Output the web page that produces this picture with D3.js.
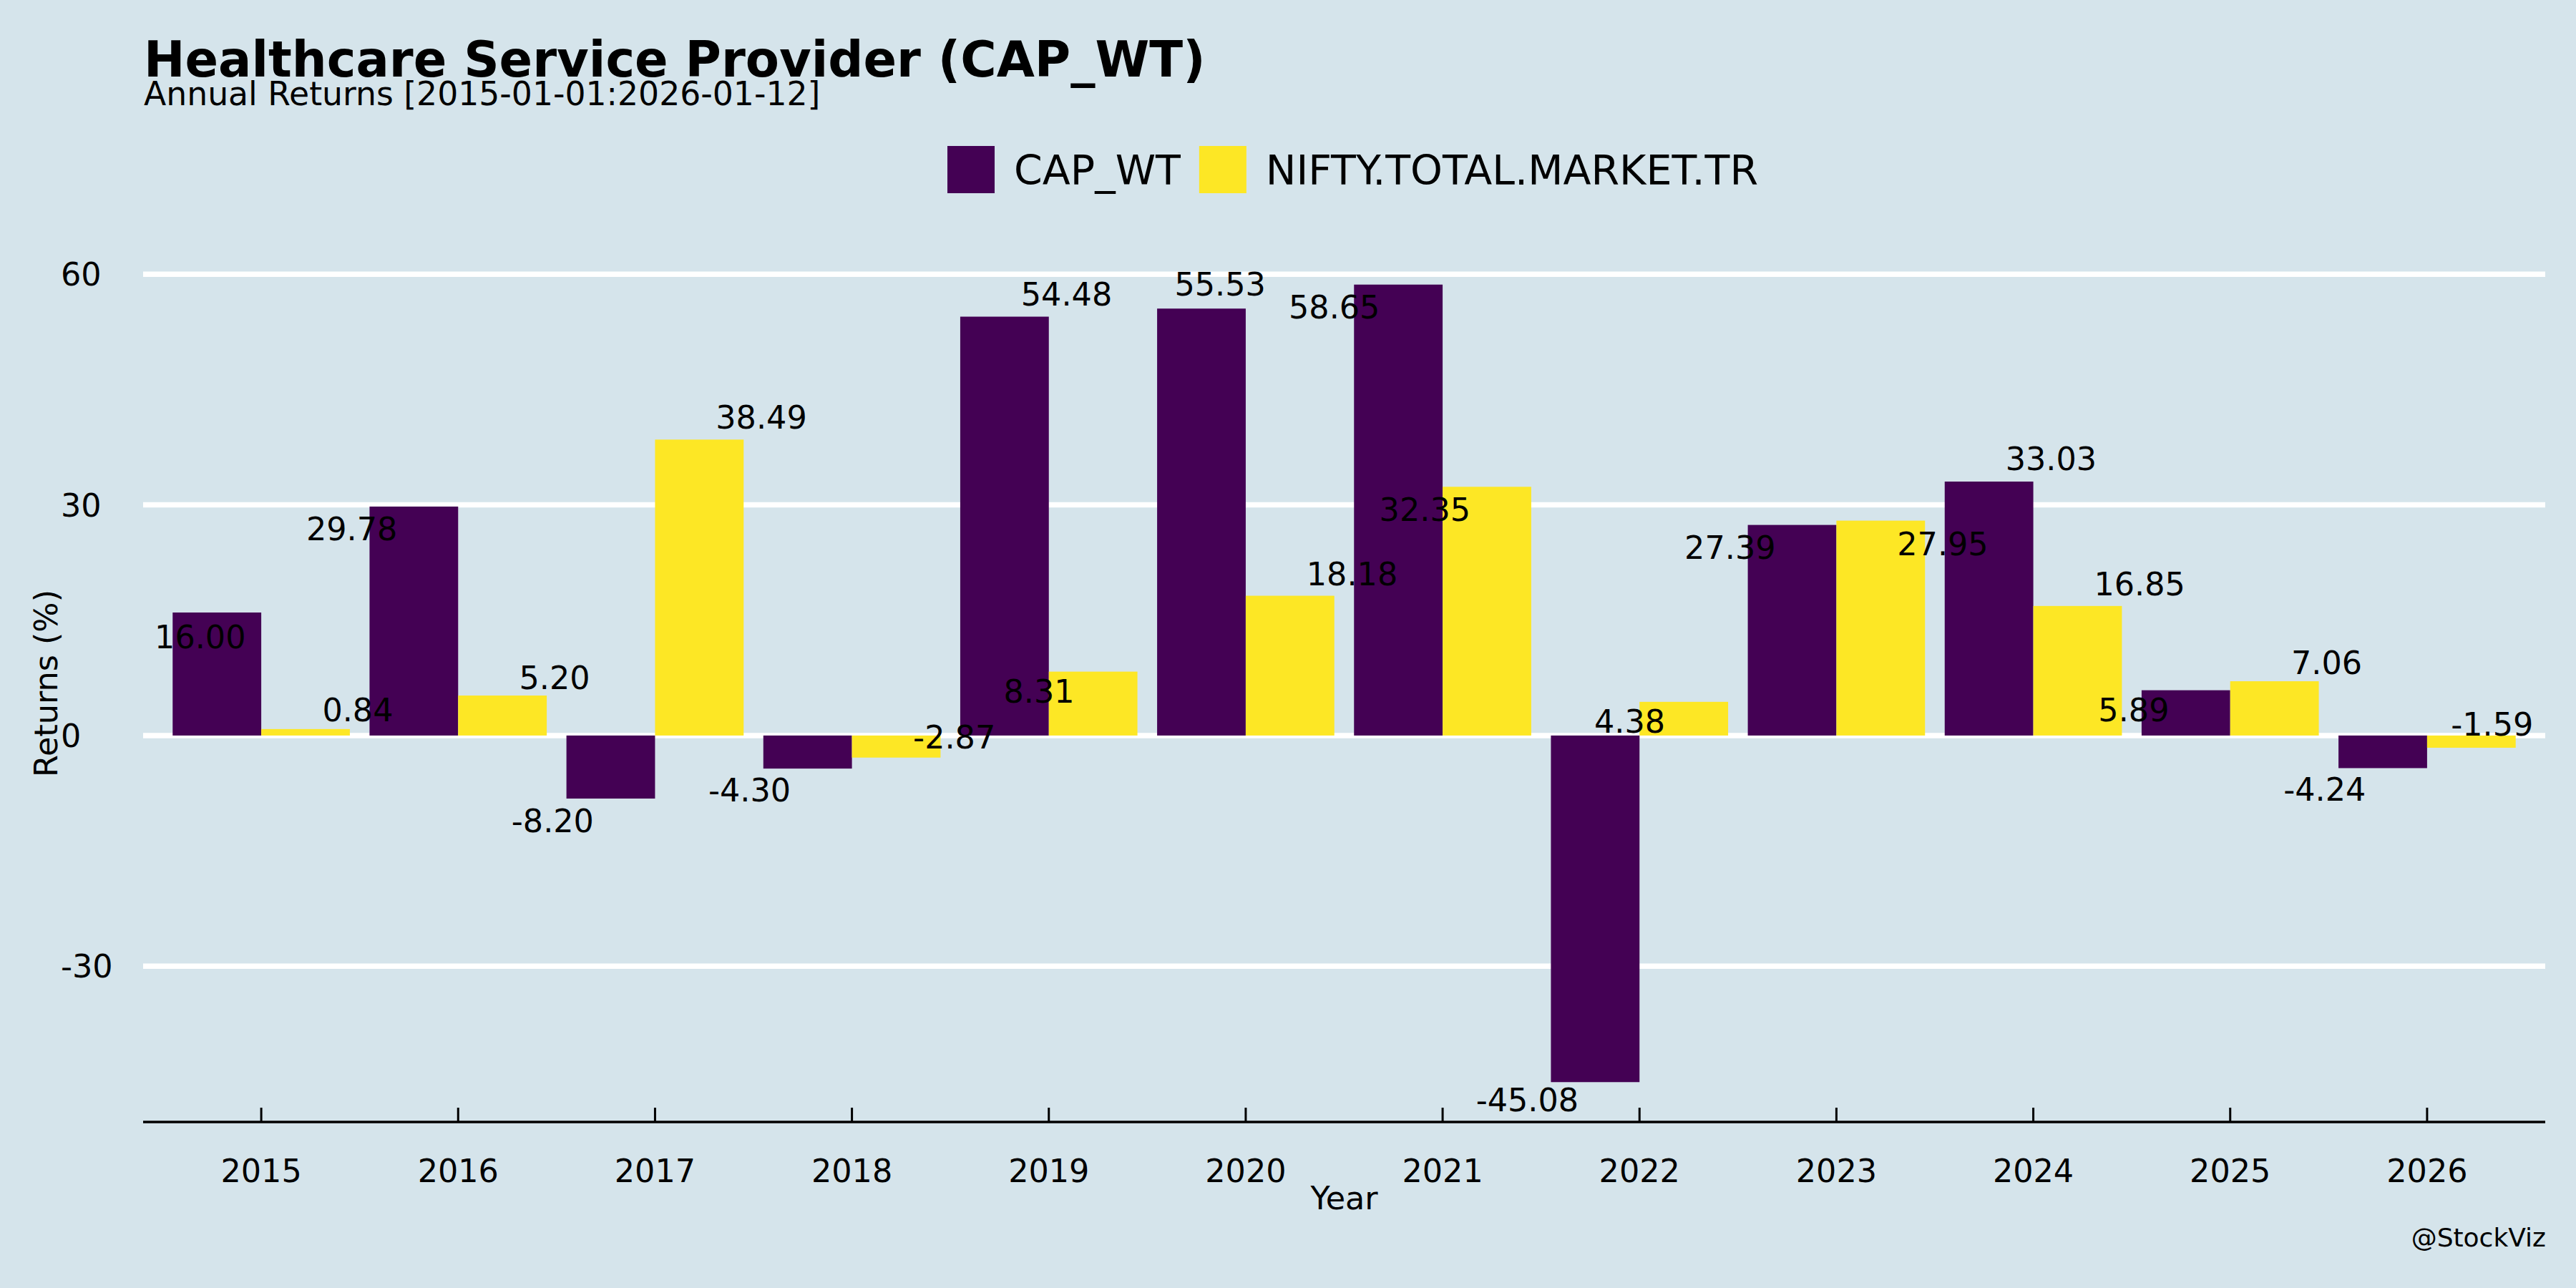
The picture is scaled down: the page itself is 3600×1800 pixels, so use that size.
<!DOCTYPE html>
<html>
<head>
<meta charset="utf-8">
<script src="https://cdn.jsdelivr.net/npm/d3@7"></script>
<style>
  html, body { margin: 0; padding: 0; background: #d5e4eb; }
  svg { display: block; }
  text { font-family: "DejaVu Sans", sans-serif; fill: #000; }
</style>
</head>
<body>
<svg id="chart" width="3600" height="1800"></svg>
<script>
// ---- data ----
const years = [2015, 2016, 2017, 2018, 2019, 2020, 2021, 2022, 2023, 2024, 2025, 2026];
const capWt = [16.00, 29.78, -8.20, -4.30, 54.48, 55.53, 58.65, -45.08, 27.39, 33.03, 5.89, -4.24];
const nifty = [0.84, 5.20, 38.49, -2.87, 8.31, 18.18, 32.35, 4.38, 27.95, 16.85, 7.06, -1.59];
const seriesNames = ["CAP_WT", "NIFTY.TOTAL.MARKET.TR"];
const yTicks = [-30, 0, 30, 60];
// value-label anchors (category offset, value units) as placed in the reference
const capLabelDx = [-0.31, -0.54, -0.52, -0.52, 0.09, -0.13, -0.55, -0.57, -0.54, 0.09, -0.49, -0.52];
const capLabelY = [12.8, 26.9, -11.1, -7.1, 57.4, 58.7, 55.7, -47.4, 24.5, 36.0, 3.35, -7.0];
const niftyLabelDx = [0.49, 0.49, 0.54, 0.52, -0.05, 0.54, -0.09, -0.05, 0.54, 0.54, 0.49, 0.33];
const niftyLabelY = [3.3, 7.55, 41.4, -0.2, 5.8, 21.0, 29.4, 1.85, 24.95, 19.7, 9.5, 1.5];

(function () {
// ---- layout ----
const W = 3600, H = 1800;
const mLeft = 200, mRight = 3557, mTop = 342, mBottom = 1568;
const colors = ["#440154", "#fde725"];
const barW = 0.45;

const svg = d3.select("#chart");
svg.append("rect").attr("width", W).attr("height", H).attr("fill", "#d5e4eb");

const allVals = capWt.concat(nifty);
const vmin = d3.min(allVals), vmax = d3.max(allVals);
const pad = (vmax - vmin) * 0.05;
const x = d3.scaleLinear().domain([-0.6, years.length - 0.4]).range([mLeft, mRight]);
const y = d3.scaleLinear().domain([vmin - pad, vmax + pad]).range([mBottom, mTop]);

// gridlines
svg.append("g").selectAll("line").data(yTicks).join("line")
  .attr("x1", mLeft).attr("x2", mRight)
  .attr("y1", d => y(d)).attr("y2", d => y(d))
  .attr("stroke", "#ffffff").attr("stroke-width", 7.5);

// y tick labels (left aligned)
svg.append("g").selectAll("text").data(yTicks).join("text")
  .attr("x", 85).attr("y", d => y(d)).attr("dy", "0.36em")
  .attr("font-size", 44.5).text(d => String(d));

// bars
const series = [capWt, nifty];
series.forEach((vals, si) => {
  svg.append("g").selectAll("rect").data(vals).join("rect")
    .attr("x", (d, i) => x(i + (si === 0 ? -barW : 0)))
    .attr("width", x(barW) - x(0))
    .attr("y", d => y(Math.max(0, d)))
    .attr("height", d => Math.abs(y(d) - y(0)))
    .attr("fill", colors[si]);
});

// value labels
const fmt = d => d.toFixed(2);
const labelSets = [[capWt, capLabelDx, capLabelY], [nifty, niftyLabelDx, niftyLabelY]];
labelSets.forEach(([vals, dxs, ys]) => {
  svg.append("g").selectAll("text").data(vals).join("text")
    .attr("x", (d, i) => x(i + dxs[i]))
    .attr("y", (d, i) => y(ys[i]))
    .attr("dy", "0.36em")
    .attr("text-anchor", "middle")
    .attr("font-size", 44.5)
    .text(d => fmt(d));
});

// x axis
const xAxis = svg.append("g");
xAxis.append("line").attr("x1", mLeft).attr("x2", mRight)
  .attr("y1", mBottom).attr("y2", mBottom).attr("stroke", "#000").attr("stroke-width", 3.5);
xAxis.selectAll("line.tick").data(years).join("line").attr("class", "tick")
  .attr("x1", (d, i) => x(i)).attr("x2", (d, i) => x(i))
  .attr("y1", mBottom - 20).attr("y2", mBottom).attr("stroke", "#000").attr("stroke-width", 3);
xAxis.selectAll("text").data(years).join("text")
  .attr("x", (d, i) => x(i)).attr("y", 1652)
  .attr("text-anchor", "middle").attr("font-size", 44.5).text(d => d);

// axis titles
svg.append("text").attr("x", (mLeft + mRight) / 2).attr("y", 1690)
  .attr("text-anchor", "middle").attr("font-size", 44.5).text("Year");
svg.append("text").attr("transform", `translate(80,${(mTop + mBottom) / 2}) rotate(-90)`)
  .attr("text-anchor", "middle").attr("font-size", 44.5).text("Returns (%)");

// title & subtitle
svg.append("text").attr("x", 201).attr("y", 107)
  .attr("font-size", 68.7).attr("font-weight", "bold").text("Healthcare Service Provider (CAP_WT)");
svg.append("text").attr("x", 201).attr("y", 147)
  .attr("font-size", 45.7).text("Annual Returns [2015-01-01:2026-01-12]");

// legend
let lx = 1324;
seriesNames.forEach((name, i) => {
  svg.append("rect").attr("x", lx).attr("y", 204).attr("width", 66).attr("height", 66)
    .attr("fill", colors[i]);
  const t = svg.append("text").attr("x", lx + 93).attr("y", 258)
    .attr("font-size", 57).text(name);
  lx = lx + 93 + t.node().getComputedTextLength() + 26;
});

// watermark
svg.append("text").attr("x", 3558).attr("y", 1742).attr("text-anchor", "end")
  .attr("font-size", 36).text("@StockViz");
})();
</script>
</body>
</html>
